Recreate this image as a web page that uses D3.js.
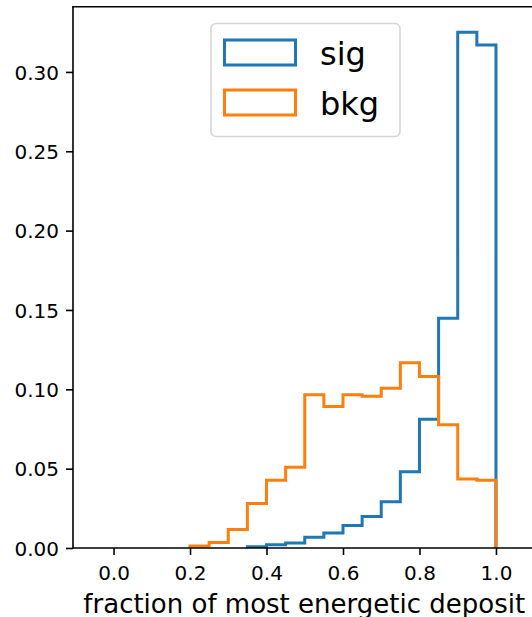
<!DOCTYPE html>
<html>
<head>
<meta charset="utf-8">
<script src="https://cdn.jsdelivr.net/npm/d3@7/dist/d3.min.js"></script>
<style>
  html, body { margin: 0; padding: 0; background: #fff; }
  svg { display: block; font-family: "DejaVu Sans", sans-serif; }
</style>
</head>
<body>
<svg id="chart" width="532" height="617"></svg>
<script>
// Bin lower edges (bin width 0.05)
const binStarts = [0.00, 0.05, 0.10, 0.15, 0.20, 0.25, 0.30, 0.35, 0.40, 0.45,
                   0.50, 0.55, 0.60, 0.65, 0.70, 0.75, 0.80, 0.85, 0.90, 0.95];
const binWidth = 0.05;

// Normalised bin contents
const sigValues = [0, 0, 0, 0, 0, 0, 0, 0.0008, 0.0021, 0.0032,
                   0.0068, 0.0095, 0.0141, 0.0198, 0.0292, 0.0481, 0.0812, 0.1448, 0.3250, 0.3170];
const bkgValues = [0, 0, 0, 0, 0.0012, 0.0035, 0.0116, 0.0280, 0.0427, 0.0509,
                   0.0965, 0.0891, 0.0965, 0.0956, 0.1007, 0.1168, 0.1080, 0.0776, 0.0435, 0.0427];

const seriesNames = ["sig", "bkg"];
const seriesColors = ["#1f77b4", "#ff7f0e"];

const xTicks = [0.0, 0.2, 0.4, 0.6, 0.8, 1.0];
const yTicks = [0.00, 0.05, 0.10, 0.15, 0.20, 0.25, 0.30];
const xLabel = "fraction of most energetic deposit";

const svg = d3.select("#chart");

const plot = { left: 73, top: 6.7, right: 536.5, bottom: 548 };

const x = d3.scaleLinear().domain([-0.106, 1.106]).range([plot.left, plot.right]);
const y = d3.scaleLinear().domain([0, 0.3411]).range([plot.bottom, plot.top]);

svg.append("defs").append("clipPath").attr("id", "plotclip")
  .append("rect")
  .attr("x", plot.left).attr("y", plot.top)
  .attr("width", plot.right - plot.left).attr("height", plot.bottom - plot.top);

// Step outline of a histogram, starting at its first filled bin
function stepPoints(values) {
  let first = values.findIndex(v => v > 0);
  const pts = [[binStarts[first], 0]];
  for (let i = first; i < values.length; i++) {
    pts.push([binStarts[i], values[i]]);
    pts.push([binStarts[i] + binWidth, values[i]]);
  }
  pts.push([binStarts[values.length - 1] + binWidth, 0]);
  return pts;
}

const line = d3.line().x(d => x(d[0])).y(d => y(d[1]));

const histG = svg.append("g").attr("clip-path", "url(#plotclip)");
[sigValues, bkgValues].forEach((vals, i) => {
  histG.append("path")
    .attr("d", line(stepPoints(vals)))
    .attr("fill", "none")
    .attr("stroke", seriesColors[i])
    .attr("stroke-width", 3)
    .attr("stroke-linejoin", "miter");
});

// Axes
const xAxis = d3.axisBottom(x).tickValues(xTicks).tickFormat(d3.format(".1f"))
  .tickSize(7).tickPadding(7).tickSizeOuter(0);
const yAxis = d3.axisLeft(y).tickValues(yTicks).tickFormat(d3.format(".2f"))
  .tickSize(7).tickPadding(7).tickSizeOuter(0);

const gx = svg.append("g").attr("transform", `translate(0,${plot.bottom})`).call(xAxis);
const gy = svg.append("g").attr("transform", `translate(${plot.left},0)`).call(yAxis);

[gx, gy].forEach(g => {
  g.select(".domain").remove();
  g.selectAll(".tick line").attr("stroke", "#000").attr("stroke-width", 1.6);
  g.selectAll(".tick text").attr("fill", "#000").attr("font-size", 20)
    .attr("font-family", "DejaVu Sans, sans-serif");
});
gx.selectAll(".tick text").attr("dy", null).attr("y", 32);
gy.selectAll(".tick text").attr("dy", "0.36em");

// Spines
const spines = svg.append("g").attr("stroke", "#000").attr("stroke-width", 1.6)
  .attr("stroke-linecap", "square");
spines.append("line").attr("x1", plot.left).attr("x2", plot.right)
  .attr("y1", plot.bottom).attr("y2", plot.bottom);
spines.append("line").attr("x1", plot.left).attr("x2", plot.right)
  .attr("y1", plot.top).attr("y2", plot.top);
spines.append("line").attr("x1", plot.left).attr("x2", plot.left)
  .attr("y1", plot.top).attr("y2", plot.bottom);

// Axis label
svg.append("text")
  .attr("x", (x(0) + x(1)) / 2 - 0.5)
  .attr("y", 612.5)
  .attr("text-anchor", "middle")
  .attr("font-size", 26)
  .attr("fill", "#000")
  .text(xLabel);

// Legend
const legend = svg.append("g");
legend.append("rect")
  .attr("x", 211).attr("y", 23.5).attr("width", 189).attr("height", 113)
  .attr("rx", 5).attr("ry", 5)
  .attr("fill", "#fff").attr("fill-opacity", 0.8)
  .attr("stroke", "#d6d6d6").attr("stroke-width", 1.6);

seriesNames.forEach((name, i) => {
  const rowY = 40 + i * 50;
  legend.append("rect")
    .attr("x", 224.5).attr("y", rowY).attr("width", 71).attr("height", 25)
    .attr("fill", "none").attr("stroke", seriesColors[i]).attr("stroke-width", 3);
  legend.append("text")
    .attr("x", 320).attr("y", rowY + 25)
    .attr("font-size", 32).attr("fill", "#000")
    .text(name);
});
</script>
</body>
</html>
